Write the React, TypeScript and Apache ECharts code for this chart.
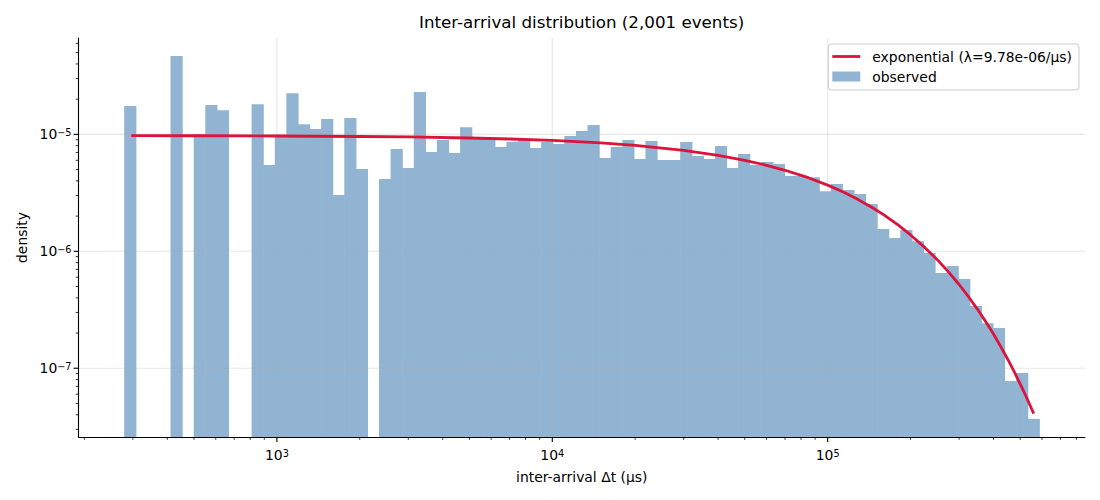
import React, { useEffect, useRef } from 'react';
import * as echarts from 'echarts';

const FONT = 'DejaVu Sans';

// Histogram: 79 log-spaced bins from the shortest to the longest gap (μs)
const binStart = 279;
const binEnd = 586500;
const binDensity: (number | null)[] = [
  1.75e-5, null, null, null, 4.67e-5, null, 1.0e-5, 1.78e-5, 1.61e-5, null,
  null, 1.81e-5, 5.47e-6, 9.9e-6, 2.25e-5, 1.22e-5, 1.11e-5, 1.35e-5, 3.03e-6, 1.38e-5,
  5.06e-6, null, 4.15e-6, 7.48e-6, 5.15e-6, 2.3e-5, 7.06e-6, 8.94e-6, 6.92e-6, 1.15e-5,
  9.4e-6, 9.4e-6, 7.78e-6, 8.6e-6, 9.06e-6, 7.63e-6, 8.65e-6, 8.26e-6, 9.67e-6, 1.07e-5,
  1.2e-5, 6.27e-6, 7.78e-6, 8.94e-6, 6.15e-6, 8.77e-6, 6.03e-6, 6.03e-6, 8.6e-6, 6.53e-6,
  6.15e-6, 7.94e-6, 5.15e-6, 6.79e-6, 5.47e-6, 5.8e-6, 5.57e-6, 4.41e-6, 4.41e-6, 4.3e-6,
  3.27e-6, 3.76e-6, 3.34e-6, 3.09e-6, 2.54e-6, 1.55e-6, 1.3e-6, 1.52e-6, 1.22e-6, 9.67e-7,
  6.52e-7, 7.48e-7, 5.8e-7, 3.4e-7, 2.43e-7, 2.21e-7, 7.78e-8, 9.12e-8, 3.69e-8,
];

// Fitted exponential
const curveT = [
  296, 500, 1000, 2000, 3000, 5000, 7000, 10000, 15000, 20000, 30000, 40000, 50000,
  60000, 70000, 85000, 100000, 115000, 130000, 145000, 160000, 180000, 200000, 225000,
  250000, 275000, 300000, 325000, 350000, 375000, 400000, 425000, 450000, 475000,
  500000, 525000, 560000,
];
const curveDensity = [
  9.75e-6, 9.73e-6, 9.68e-6, 9.59e-6, 9.5e-6, 9.31e-6, 9.13e-6, 8.87e-6, 8.45e-6, 8.04e-6,
  7.29e-6, 6.61e-6, 6.0e-6, 5.44e-6, 4.93e-6, 4.26e-6, 3.68e-6, 3.18e-6, 2.74e-6, 2.37e-6,
  2.05e-6, 1.68e-6, 1.38e-6, 1.08e-6, 8.48e-7, 6.64e-7, 5.2e-7, 4.07e-7, 3.19e-7, 2.5e-7,
  1.96e-7, 1.53e-7, 1.2e-7, 9.4e-8, 7.35e-8, 5.76e-8, 4.09e-8,
];

const fitName = 'exponential (λ=9.78e-06/μs)';
const histName = 'observed';

const xMajorTicks = [1e3, 1e4, 1e5];
const xMajorExp = ['3', '4', '5'];
const xMinorTicks = [
  200, 300, 400, 500, 600, 700, 800, 900,
  2000, 3000, 4000, 5000, 6000, 7000, 8000, 9000,
  20000, 30000, 40000, 50000, 60000, 70000, 80000, 90000,
  200000, 300000, 400000, 500000, 600000, 700000, 800000,
];
const yMajorTicks = [1e-5, 1e-6, 1e-7];
const yMajorExp = ['−5', '−6', '−7'];
const yMinorTicks = [
  3e-8, 4e-8, 5e-8, 6e-8, 7e-8, 8e-8, 9e-8,
  2e-7, 3e-7, 4e-7, 5e-7, 6e-7, 7e-7, 8e-7, 9e-7,
  2e-6, 3e-6, 4e-6, 5e-6, 6e-6, 7e-6, 8e-6, 9e-6,
  2e-5, 3e-5, 4e-5, 5e-5, 6e-5,
];

const xMin = 190.4;
const xMax = 859700;
const yMin = 2.582e-8;
const yMax = 6.668e-5;

// steelblue at alpha 0.6 over white, made opaque so neighbouring bars leave no seams
const BAR_COLOR = '#90b4d2';
const LINE_COLOR = '#dc143c';
const GRID_COLOR = 'rgba(176,176,176,0.3)';

const labelRich = {
  b: { fontFamily: FONT, fontSize: 13.9, lineHeight: 14, verticalAlign: 'bottom', fill: '#000' },
  s: { fontFamily: FONT, fontSize: 9.7, lineHeight: 10, padding: [0, 0, 7, 0], verticalAlign: 'top', fill: '#000' },
};

export default function App() {
  const chartRef = useRef<HTMLDivElement>(null);

  useEffect(() => {
    document.body.style.margin = '0';
    if (!chartRef.current) return;
    const chart = echarts.init(chartRef.current, null, { renderer: 'svg' });

    // bin edges are log-spaced between binStart and binEnd
    const nBins = binDensity.length;
    const ratio = binEnd / binStart;
    const edge = (k: number) => binStart * Math.pow(ratio, k / nBins);
    const bars: number[][] = [];
    binDensity.forEach((d, i) => {
      if (d != null) bars.push([edge(i), edge(i + 1), d]);
    });

    const xTickData = [
      ...xMajorTicks.map((v, i) => [v, yMin, i]),
      ...xMinorTicks.map((v) => [v, yMin, -1]),
    ];
    const yTickData = [
      ...yMajorTicks.map((v, i) => [xMin, v, i]),
      ...yMinorTicks.map((v) => [xMin, v, -1]),
    ];

    const option: any = {
      animation: false,
      backgroundColor: '#fff',
      title: {
        text: 'Inter-arrival distribution (2,001 events)',
        left: 419,
        top: 12,
        padding: 0,
        textStyle: { fontFamily: FONT, fontSize: 16.7, fontWeight: 'normal', color: '#000', lineHeight: 20 },
      },
      legend: {
        data: [
          { name: fitName, icon: 'path://M0,0H28V2.8H0Z', itemStyle: { color: LINE_COLOR } },
          { name: histName, icon: 'rect', itemStyle: { color: BAR_COLOR } },
        ],
        orient: 'vertical',
        right: 21,
        top: 44,
        itemWidth: 28,
        itemHeight: 10,
        itemGap: 5,
        padding: [5, 7, 6, 4],
        backgroundColor: 'rgba(255,255,255,0.8)',
        borderColor: '#cccccc',
        borderWidth: 1,
        borderRadius: 3,
        selectedMode: false,
        textStyle: { fontFamily: FONT, fontSize: 13.9, color: '#000', lineHeight: 15, padding: [0, 0, 0, 7] },
      },
      grid: { left: 78.5, right: 15, top: 38, bottom: 63 },
      xAxis: {
        type: 'log',
        logBase: 10,
        min: xMin,
        max: xMax,
        name: 'inter-arrival Δt (μs)',
        nameLocation: 'middle',
        nameGap: 33,
        nameTextStyle: { fontFamily: FONT, fontSize: 13.9, color: '#000' },
        axisLine: { show: true, lineStyle: { color: '#000', width: 1.1 } },
        axisTick: { show: false },
        axisLabel: { show: false },
        splitLine: { show: false },
      },
      yAxis: {
        type: 'log',
        logBase: 10,
        min: yMin,
        max: yMax,
        name: 'density',
        nameLocation: 'middle',
        nameRotate: 90,
        nameGap: 50,
        nameTextStyle: { fontFamily: FONT, fontSize: 13.9, color: '#000' },
        axisLine: { show: true, lineStyle: { color: '#000', width: 1.1 } },
        axisTick: { show: false },
        axisLabel: { show: false },
        splitLine: { show: false },
      },
      series: [
        {
          name: histName,
          type: 'custom',
          z: 2,
          itemStyle: { color: BAR_COLOR },
          data: bars,
          encode: { x: [0, 1], y: 2 },
          renderItem: (_p: any, api: any) => {
            const a = api.coord([api.value(0), api.value(2)]);
            const b = api.coord([api.value(1), yMin]);
            return {
              type: 'rect',
              shape: { x: a[0], y: a[1], width: b[0] - a[0] + 0.6, height: b[1] - a[1] },
              style: { fill: BAR_COLOR },
            };
          },
        },
        {
          // vertical grid lines
          type: 'custom',
          z: 3,
          silent: true,
          data: xMajorTicks.map((v) => [v, yMin]),
          renderItem: (_p: any, api: any) => {
            const t = api.coord([api.value(0), yMax]);
            const b = api.coord([api.value(0), yMin]);
            return {
              type: 'line',
              shape: { x1: t[0], y1: t[1], x2: b[0], y2: b[1] },
              style: { stroke: GRID_COLOR, lineWidth: 1.1 },
            };
          },
        },
        {
          // horizontal grid lines
          type: 'custom',
          z: 3,
          silent: true,
          data: yMajorTicks.map((v) => [xMin, v]),
          renderItem: (_p: any, api: any) => {
            const l = api.coord([xMin, api.value(1)]);
            const r = api.coord([xMax, api.value(1)]);
            return {
              type: 'line',
              shape: { x1: l[0], y1: l[1], x2: r[0], y2: r[1] },
              style: { stroke: GRID_COLOR, lineWidth: 1.1 },
            };
          },
        },
        {
          name: fitName,
          type: 'line',
          z: 4,
          symbol: 'none',
          data: curveT.map((t, i) => [t, curveDensity[i]]),
          lineStyle: { color: LINE_COLOR, width: 2.8 },
          itemStyle: { color: LINE_COLOR },
        },
        {
          // x ticks and labels
          type: 'custom',
          z: 5,
          silent: true,
          clip: false,
          data: xTickData,
          renderItem: (_p: any, api: any) => {
            const p = api.coord([api.value(0), yMin]);
            const idx = api.value(2);
            const major = idx >= 0;
            const children: any[] = [
              {
                type: 'line',
                shape: { x1: p[0], y1: p[1], x2: p[0], y2: p[1] + (major ? 4.9 : 2.8) },
                style: { stroke: '#000', lineWidth: major ? 1.1 : 0.8 },
              },
            ];
            if (major) {
              children.push({
                type: 'text',
                x: p[0],
                y: p[1] + 11,
                style: {
                  text: `{b|10}{s|${xMajorExp[idx]}}`,
                  rich: labelRich,
                  align: 'center',
                  verticalAlign: 'top',
                },
              });
            }
            return { type: 'group', children };
          },
        },
        {
          // y ticks and labels
          type: 'custom',
          z: 5,
          silent: true,
          clip: false,
          data: yTickData,
          renderItem: (_p: any, api: any) => {
            const p = api.coord([xMin, api.value(1)]);
            const idx = api.value(2);
            const major = idx >= 0;
            const children: any[] = [
              {
                type: 'line',
                shape: { x1: p[0], y1: p[1], x2: p[0] - (major ? 4.9 : 2.8), y2: p[1] },
                style: { stroke: '#000', lineWidth: major ? 1.1 : 0.8 },
              },
            ];
            if (major) {
              children.push({
                type: 'text',
                x: p[0] - 7,
                y: p[1],
                style: {
                  text: `{b|10}{s|${yMajorExp[idx]}}`,
                  rich: labelRich,
                  align: 'right',
                  verticalAlign: 'middle',
                },
              });
            }
            return { type: 'group', children };
          },
        },
      ],
    };

    chart.setOption(option);
    return () => {
      chart.dispose();
    };
  }, []);

  return <div ref={chartRef} style={{ width: 1100, height: 500 }} />;
}
